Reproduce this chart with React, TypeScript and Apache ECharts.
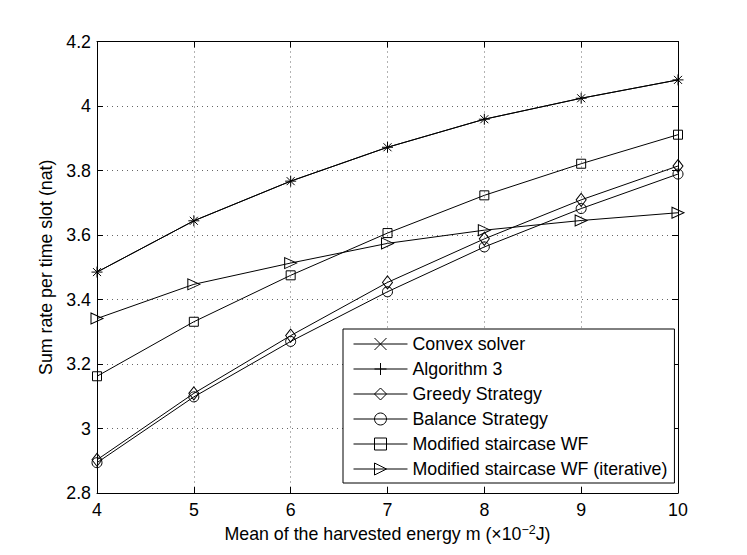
import React, { useEffect, useRef } from "react";
import * as echarts from "echarts";

const xValues = [4, 5, 6, 7, 8, 9, 10];
const convexSolver = [3.485, 3.644, 3.767, 3.872, 3.959, 4.024, 4.081];
const algorithm3 = [3.485, 3.644, 3.767, 3.872, 3.959, 4.024, 4.081];
const greedyStrategy = [2.903, 3.109, 3.288, 3.453, 3.588, 3.709, 3.814];
const balanceStrategy = [2.894, 3.098, 3.27, 3.424, 3.563, 3.682, 3.789];
const modifiedWF = [3.162, 3.331, 3.475, 3.606, 3.723, 3.821, 3.911];
const modifiedWFIter = [3.341, 3.447, 3.513, 3.574, 3.615, 3.645, 3.669];

const seriesNames = [
  "Convex solver",
  "Algorithm 3",
  "Greedy Strategy",
  "Balance Strategy",
  "Modified staircase WF",
  "Modified staircase WF (iterative)",
];

const FONT = "'Liberation Sans', Arial, Helvetica, sans-serif";
const FS = 17.8;

const symX = "path://M0,0L10,10M0,10L10,0";
const symPlus = "path://M5,0L5,10M0,5L10,5";
const symTri = "path://M0,0L12,5.5L0,11Z";

function mk(name: string, values: number[], symbol: string, size: any) {
  return {
    name,
    type: "line",
    data: xValues.map((x, i) => [x, values[i]]),
    symbol,
    symbolSize: size,
    showSymbol: true,
    lineStyle: { color: "#000", width: 1 },
    itemStyle: { color: "none", borderColor: "#000", borderWidth: 1 },
    emphasis: { disabled: true },
    z: 3,
  };
}

export default function App() {
  const ref = useRef<HTMLDivElement>(null);
  useEffect(() => {
    if (!ref.current) return;
    const chart = echarts.init(ref.current, undefined, { renderer: "svg" });
    const axisCommon = {
      axisLine: { show: true, lineStyle: { color: "#000", width: 1 } },
      axisTick: { show: true, inside: true, length: 6, lineStyle: { color: "#000" } },
    };
    chart.setOption({
      animation: false,
      backgroundColor: "#fff",
      textStyle: { fontFamily: FONT, color: "#000" },
      grid: { left: 97, right: 69, top: 41.5, bottom: 62, containLabel: false, outerBoundsMode: "none" },
      legend: {
        data: seriesNames,
        left: 343,
        top: 329,
        orient: "vertical",
        backgroundColor: "#fff",
        borderColor: "#000",
        borderWidth: 1,
        padding: [5, 7, 4, 10],
        itemWidth: 54,
        itemHeight: 15,
        itemGap: 5,
        selectedMode: false,
        itemStyle: { color: "none", borderColor: "#000", borderWidth: 1 },
        lineStyle: { color: "#000", width: 1 },
        textStyle: { fontFamily: FONT, fontSize: FS, color: "#000", lineHeight: 20 },
        z: 10,
      },
      xAxis: [
        {
          type: "value",
          min: 4,
          max: 10,
          interval: 1,
          position: "bottom",
          ...axisCommon,
          axisLabel: { fontFamily: FONT, fontSize: FS, color: "#000", margin: 8 },
          splitLine: { show: true, lineStyle: { color: "#666", width: 1, type: [1, 4] } },
          name: "{a|Mean of the harvested energy m (×10}{s|−2}{a|J)}",
          nameLocation: "middle",
          nameGap: 25,
          nameTextStyle: {
            rich: {
              a: { fontFamily: FONT, fontSize: FS, color: "#000" },
              s: { fontFamily: FONT, fontSize: 12.5, color: "#000", padding: [0, 0, 8, 0] },
            },
          },
        },
        {
          type: "value",
          min: 4,
          max: 10,
          interval: 1,
          position: "top",
          ...axisCommon,
          axisLabel: { show: false },
          splitLine: { show: false },
        },
      ],
      yAxis: [
        {
          type: "value",
          min: 2.8,
          max: 4.2,
          interval: 0.2,
          position: "left",
          ...axisCommon,
          axisLabel: { fontFamily: FONT, fontSize: FS, color: "#000", margin: 6 },
          splitLine: { show: true, lineStyle: { color: "#666", width: 1, type: [1, 4] } },
          name: "Sum rate per time slot (nat)",
          nameLocation: "middle",
          nameGap: 40,
          nameTextStyle: { fontFamily: FONT, fontSize: FS, color: "#000" },
        },
        {
          type: "value",
          min: 2.8,
          max: 4.2,
          interval: 0.2,
          position: "right",
          ...axisCommon,
          axisLabel: { show: false },
          splitLine: { show: false },
        },
      ],
      series: [
        mk(seriesNames[0], convexSolver, symX, 8),
        mk(seriesNames[1], algorithm3, symPlus, 11),
        mk(seriesNames[2], greedyStrategy, "diamond", [10, 13]),
        mk(seriesNames[3], balanceStrategy, "circle", 10),
        mk(seriesNames[4], modifiedWF, "rect", 9),
        mk(seriesNames[5], modifiedWFIter, symTri, [12, 11]),
      ],
    });
    return () => chart.dispose();
  }, []);
  return (
    <div
      ref={ref}
      style={{ position: "fixed", left: 0, top: 0, width: 747, height: 555, background: "#fff" }}
    />
  );
}
